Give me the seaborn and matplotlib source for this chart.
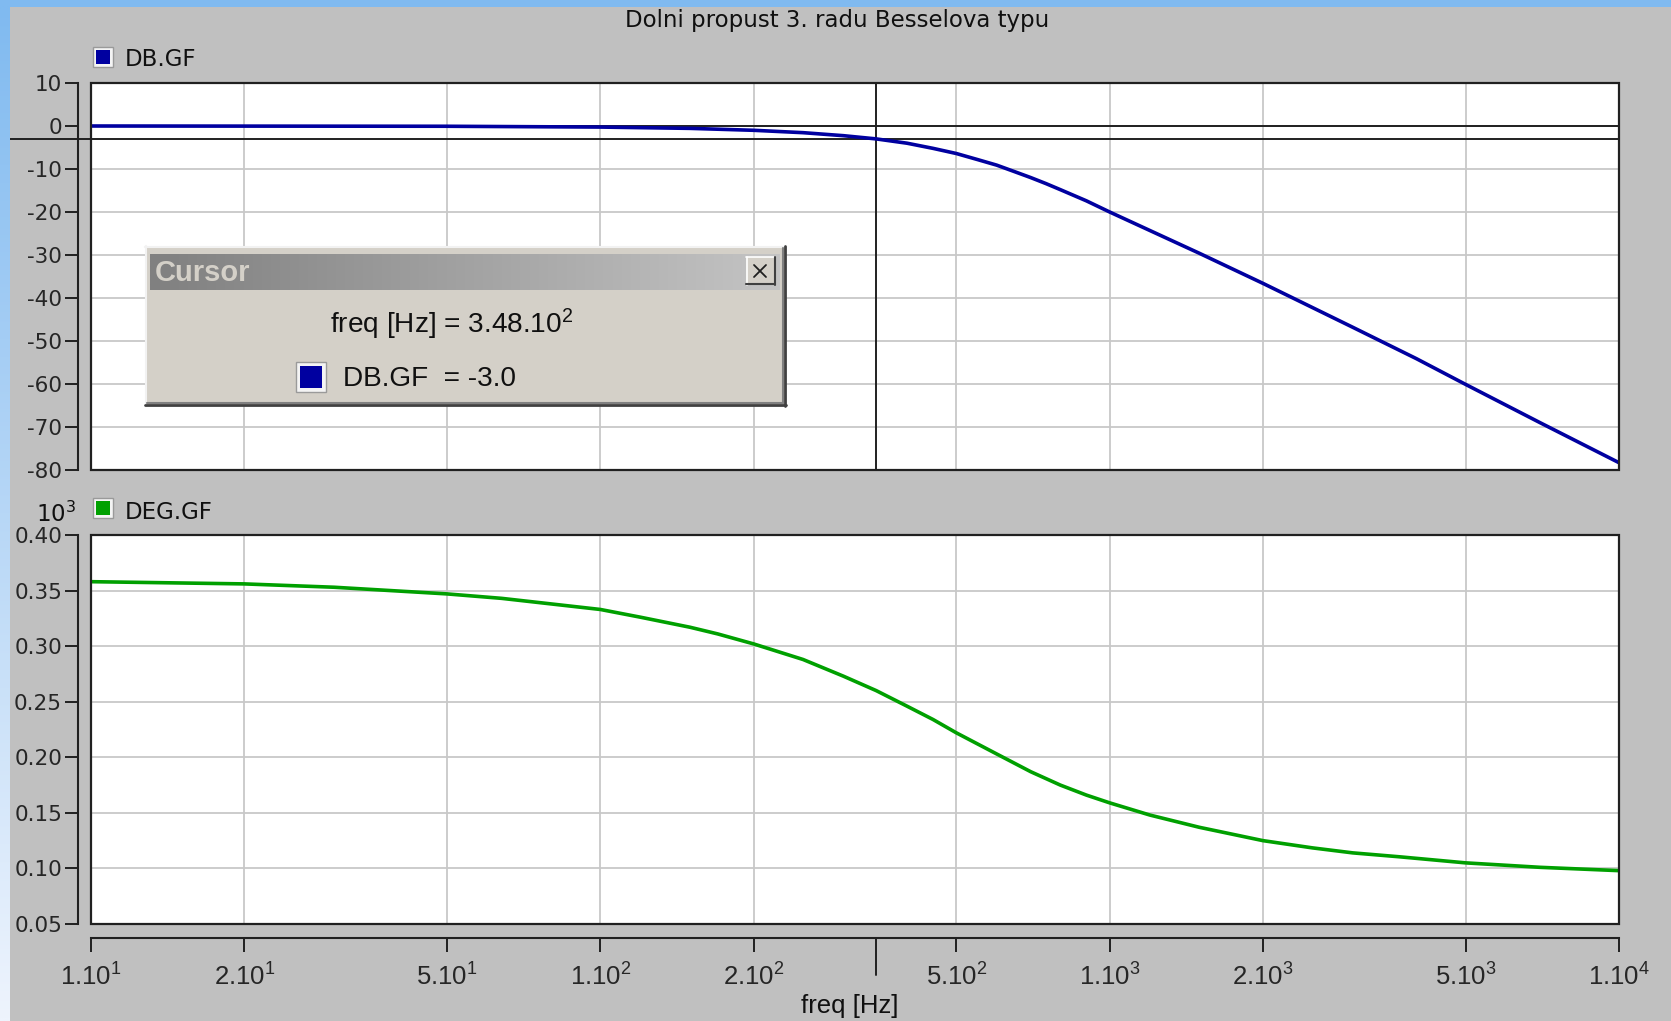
import numpy as np
import matplotlib
matplotlib.use('Agg')
import matplotlib.pyplot as plt
from matplotlib.patches import Rectangle
from matplotlib.ticker import NullLocator
from matplotlib import font_manager
import seaborn as sns

# DB.GF  (magnitude, dB)
freq_db = [10, 50, 100, 150, 200, 250, 300, 348, 400, 450, 500, 550, 600, 650,
           700, 750, 800, 900, 1000, 1500, 2000, 3000, 4000, 5000, 7000, 10000]
db_gf = [0.0, -0.06, -0.25, -0.55, -1.0, -1.55, -2.25, -3.0, -4.0, -5.2, -6.4,
         -7.8, -9.1, -10.6, -12.0, -13.4, -14.8, -17.4, -20.0, -29.6, -36.6,
         -46.8, -54.1, -60.1, -69.0, -78.3]

# DEG.GF  (phase, x10^3 deg)
freq_deg = [10, 20, 30, 50, 64, 100, 120, 150, 170, 200, 250, 300, 348, 400,
            450, 500, 600, 700, 800, 900, 1000, 1200, 1500, 2000, 2500, 3000,
            3700, 5000, 7000, 10000]
deg_gf = [0.358, 0.356, 0.353, 0.347, 0.343, 0.333, 0.326, 0.317, 0.311, 0.302,
          0.288, 0.273, 0.260, 0.246, 0.234, 0.222, 0.203, 0.187, 0.175, 0.166,
          0.159, 0.148, 0.137, 0.125, 0.1185, 0.114, 0.1105, 0.105, 0.101, 0.098]

xticks = [10, 20, 50, 100, 200, 500, 1000, 2000, 5000, 10000]
xtick_mant = ['1', '2', '5', '1', '2', '5', '1', '2', '5', '1']
xtick_exp = ['1', '1', '1', '2', '2', '2', '3', '3', '3', '4']
db_ticks = [10, 0, -10, -20, -30, -40, -50, -60, -70, -80]
deg_ticks = [0.40, 0.35, 0.30, 0.25, 0.20, 0.15, 0.10, 0.05]

title = 'Dolni propust 3. radu Besselova typu'
cursor_freq = 348
cursor_db = -3.0
ref_db = 0

sns.set_theme(style='white')
plt.rcParams['font.family'] = ['DejaVu Sans']
plt.rcParams['axes.unicode_minus'] = False

# narrow font for the cursor box if available
try:
    font_manager.findfont(font_manager.FontProperties(family='Liberation Sans Narrow'),
                          fallback_to_default=False)
    narrow, nscale = 'Liberation Sans Narrow', 1.0
except Exception:
    narrow, nscale = 'Liberation Sans', 0.84

W, H = 1671, 1021
fig = plt.figure(figsize=(W / 100, H / 100), dpi=100, facecolor='#c0c0c0')


def box(x0, y0, x1, y1):
    return [x0 / W, 1 - y1 / H, (x1 - x0) / W, (y1 - y0) / H]


blue = '#0000a0'
green = '#00a000'
ax1 = fig.add_axes(box(91, 83, 1619, 470))
ax2 = fig.add_axes(box(91, 535, 1619, 924))

for ax in (ax1, ax2):
    ax.set_facecolor('white')
    ax.set_xscale('log')
    ax.set_xlim(10, 10000)
    ax.set_xticks(xticks)
    ax.xaxis.set_minor_locator(NullLocator())
    ax.grid(True, which='major', color='#c8c8c8', lw=1.3)
    ax.set_axisbelow(True)
    for s in ('top', 'right', 'bottom'):
        ax.spines[s].set_visible(False)
    ax.spines['left'].set_position(('outward', 9.4))
    ax.spines['left'].set_color('#202020')
    ax.spines['left'].set_linewidth(1.5)
    ax.add_patch(Rectangle((0, 0), 1, 1, transform=ax.transAxes, fill=False,
                           ec='#202020', lw=1.6, zorder=5, clip_on=False))
    ax.tick_params(axis='y', direction='out', length=9.4, width=1.4, color='#202020',
                   pad=2, labelsize=15.5, left=True)

sns.lineplot(x=freq_db, y=db_gf, ax=ax1, color=blue, lw=2.6, zorder=4)
ax1.set_ylim(-80, 10)
ax1.set_yticks(db_ticks)
ax1.set_yticklabels([str(v) for v in db_ticks])
ax1.tick_params(axis='x', length=0, labelbottom=False)
ax1.set_xlabel('')
ax1.axhline(ref_db, color='#202020', lw=1.4, zorder=3)
ax1.axhline(cursor_db, xmin=(10 - 91) / 1528, xmax=1, color='#202020', lw=1.4,
            zorder=3, clip_on=False)
ax1.axvline(cursor_freq, color='#202020', lw=1.4, zorder=3)

sns.lineplot(x=freq_deg, y=deg_gf, ax=ax2, color=green, lw=2.6, zorder=4)
ax2.set_ylim(0.05, 0.40)
ax2.set_yticks(deg_ticks)
ax2.set_yticklabels(['%.2f' % v for v in deg_ticks])
ax2.spines['bottom'].set_visible(True)
ax2.spines['bottom'].set_position(('outward', 10.1))
ax2.spines['bottom'].set_color('#202020')
ax2.spines['bottom'].set_linewidth(1.5)
ax2.tick_params(axis='x', direction='out', length=10, width=1.4, color='#202020',
                pad=8, bottom=True)
ax2.set_xticklabels([r'$\mathregular{%s.10^{%s}}$' % (m, e)
                     for m, e in zip(xtick_mant, xtick_exp)],
                    fontsize=18.5, family='Liberation Sans')
ax2.set_xlabel('')
ax2.axvline(cursor_freq, ymin=-(975 - 924) / 389, ymax=-(938 - 924) / 389,
            color='#202020', lw=1.4, clip_on=False)

# overlay in pixel coordinates
ov = fig.add_axes([0, 0, 1, 1])
ov.set_zorder(10)
ov.axis('off')

# screen border
ov.add_patch(Rectangle((0, 0), W, 7, fc='#80baf0', ec='none'))
grad = np.linspace(0, 1, 200)[:, None]
top_c = np.array([128, 186, 240]) / 255
bot_c = np.array([238, 244, 253]) / 255
strip = top_c[None, None, :] * (1 - grad[:, :, None]) + bot_c[None, None, :] * grad[:, :, None]
ov.imshow(strip, extent=[0, 10, H, 7], aspect='auto', interpolation='bilinear', zorder=2)

ov.text(837, 21, title, ha='center', va='center', fontsize=16.5, color='#101010')
ov.text(850, 1006, 'freq [Hz]', ha='center', va='center', fontsize=18.5,
        family='Liberation Sans', color='#101010')
ov.text(76, 522, r'$\mathregular{10^{3}}$', ha='right', va='baseline',
        fontsize=16.5, color='#101010')


def legend_square(x, y, color):
    ov.add_patch(Rectangle((x, y), 20, 20, fc='#f4f4f4', ec='#9a9a9a', lw=1))
    ov.add_patch(Rectangle((x + 3, y + 3), 14, 14, fc=color, ec='none'))


legend_square(93, 47, blue)
ov.text(125, 59, 'DB.GF', ha='left', va='center', fontsize=16.5, color='#101010')
legend_square(93, 498, green)
ov.text(125, 512, 'DEG.GF', ha='left', va='center', fontsize=16.5, color='#101010')

# cursor window
x0, y0, x1, y1 = 145, 246, 786, 406
ov.add_patch(Rectangle((x0, y0), x1 - x0, y1 - y0, fc='#d4d0c8', ec='none', zorder=1))
ov.plot([x0, x1], [y0 + 1, y0 + 1], color='#f2f2f2', lw=1.5)
ov.plot([x0 + 1, x0 + 1], [y0, y1], color='#f2f2f2', lw=1.5)
ov.plot([x0, x1], [y1 - 1, y1 - 1], color='#404040', lw=2)
ov.plot([x1 - 1, x1 - 1], [y0, y1], color='#404040', lw=2)
ov.plot([x0 + 2, x1 - 3], [y1 - 3.5, y1 - 3.5], color='#808080', lw=1.5)
ov.plot([x1 - 3.5, x1 - 3.5], [y0 + 2, y1 - 3], color='#808080', lw=1.5)
bar = np.linspace(0, 1, 256)[None, :, None]
c_l = np.array([128, 128, 128]) / 255
c_r = np.array([196, 196, 196]) / 255
ov.imshow(c_l * (1 - bar) + c_r * bar, extent=[150, 780, 290, 254],
          aspect='auto', interpolation='bilinear', zorder=2)
ov.text(155, 273, 'Cursor', ha='left', va='center', fontsize=25 * nscale,
        family=narrow, fontweight='bold', color='#d4d0c8', zorder=4)
bx, by = 746, 257
ov.add_patch(Rectangle((bx, by), 29, 28, fc='#d4d0c8', ec='none', zorder=4))
ov.plot([bx, bx + 29], [by + 0.5, by + 0.5], color='white', lw=1.2, zorder=5)
ov.plot([bx + 0.5, bx + 0.5], [by, by + 28], color='white', lw=1.2, zorder=5)
ov.plot([bx, bx + 29], [by + 27.5, by + 27.5], color='#404040', lw=1.5, zorder=5)
ov.plot([bx + 28.5, bx + 28.5], [by, by + 28], color='#404040', lw=1.5, zorder=5)
ov.plot([bx + 8, bx + 20], [by + 8, by + 20], color='#202020', lw=1.3, zorder=5)
ov.plot([bx + 8, bx + 20], [by + 20, by + 8], color='#202020', lw=1.3, zorder=5)

ov.text(452, 333, r'freq [Hz] = 3.48.$\mathregular{10^{2}}$', ha='center',
        va='baseline', fontsize=24 * nscale, family=narrow, color='#101010')
ov.add_patch(Rectangle((296, 362), 30, 30, fc='#f4f4f4', ec='#9a9a9a', lw=1))
ov.add_patch(Rectangle((300, 366), 22, 22, fc=blue, ec='none'))
ov.text(343, 379, 'DB.GF  = %.1f' % cursor_db, ha='left', va='center',
        fontsize=24 * nscale, family=narrow, color='#101010')

ov.set_xlim(0, W)
ov.set_ylim(H, 0)

fig.savefig('out.png', dpi=100, facecolor=fig.get_facecolor())
